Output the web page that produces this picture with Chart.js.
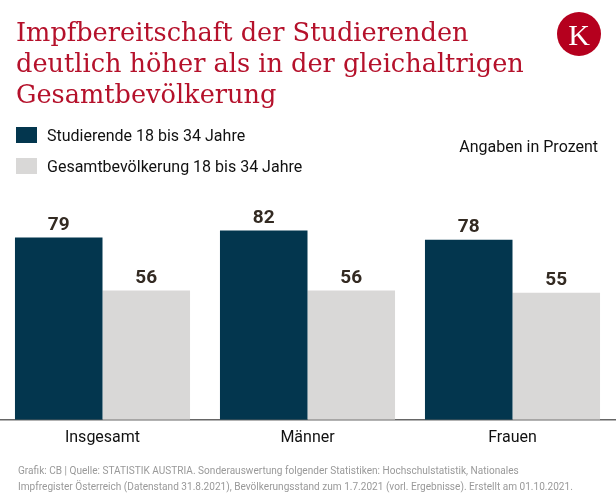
<!DOCTYPE html>
<html lang="de">
<head>
    <meta charset="UTF-8">
    <title>Impfbereitschaft</title>
    <script src="https://cdn.jsdelivr.net/npm/chart.js"></script>
    <style>
        body { margin: 0; background: #fff; font-family: Roboto, Arial, sans-serif; }
        #wrap { position: relative; width: 616px; height: 504px; overflow: hidden; }
        #chartBox { position: absolute; left: 0; top: 0; width: 616px; height: 504px; }
        h1 { position: absolute; left: 16px; top: 17px; margin: 0; font-family: "DejaVu Serif", serif; font-weight: normal;
             font-size: 25.6px; line-height: 31px; color: #b5112b; white-space: nowrap; }
        .logo { position: absolute; left: 557px; top: 12px; width: 44px; height: 44px; border-radius: 50%; background: #b5001e;
                color: #fff; font-family: "Liberation Serif", serif; font-size: 30px; text-align: center; line-height: 46px; }
        .leg { position: absolute; left: 16px; font-size: 16px; color: #111; }
        .leg span { display: inline-block; width: 21px; height: 16px; vertical-align: -2px; margin-right: 10px; }
        .unit { position: absolute; right: 18px; top: 137px; font-size: 16px; color: #111; }
        .src { position: absolute; left: 18px; top: 463px; font-size: 10.9px; line-height: 16px; color: #999; white-space: nowrap;
               transform: scaleX(0.925); transform-origin: left top; }
    </style>
</head>
<body>
<div id="wrap">
    <div id="chartBox"><canvas id="chart"></canvas></div>
    <h1>Impfbereitschaft der Studierenden<br>deutlich höher als in der gleichaltrigen<br>Gesamtbevölkerung</h1>
    <div class="logo">K</div>
    <div class="leg" style="top:126px"><span style="background:#03364e"></span>Studierende 18 bis 34 Jahre</div>
    <div class="leg" style="top:157px"><span style="background:#d9d8d7"></span>Gesamtbevölkerung 18 bis 34 Jahre</div>
    <div class="unit">Angaben in Prozent</div>
    <div class="src">Grafik: CB | Quelle: STATISTIK AUSTRIA. Sonderauswertung folgender Statistiken: Hochschulstatistik, Nationales<br>Impfregister Österreich (Datenstand 31.8.2021), Bevölkerungsstand zum 1.7.2021 (vorl. Ergebnisse). Erstellt am 01.10.2021.</div>
</div>
<script>
    let kategorien = ["Insgesamt", "Männer", "Frauen"];
    let studierende = [79, 82, 78];
    let gesamt = [56, 56, 55];

    // Zahlen über den Balken
    let werteLabel = {
        id: "werteLabel",
        afterDatasetsDraw(chart) {
            let ctx = chart.ctx;
            ctx.save();
            ctx.font = "bold 19px Roboto, Arial, sans-serif";
            ctx.fillStyle = "#332a22";
            ctx.textAlign = "center";
            ctx.textBaseline = "bottom";
            chart.data.datasets.forEach((ds, i) => {
                chart.getDatasetMeta(i).data.forEach((bar, j) => {
                    ctx.fillText(ds.data[j], bar.x, bar.y - 3);
                });
            });
            ctx.restore();
        }
    };

    let chart = new Chart(document.getElementById("chart"), {
        type: "bar",
        data: {
            labels: kategorien,
            datasets: [
                { label: "Studierende 18 bis 34 Jahre", data: studierende, backgroundColor: "#03364e" },
                { label: "Gesamtbevölkerung 18 bis 34 Jahre", data: gesamt, backgroundColor: "#d9d8d7" }
            ]
        },
        options: {
            responsive: true,
            maintainAspectRatio: false,
            animation: false,
            layout: { padding: { top: 189, left: 0, right: 1, bottom: 47 } },
            plugins: { legend: { display: false }, tooltip: { enabled: false } },
            scales: {
                x: {
                    grid: { display: false, drawTicks: false },
                    border: { color: "#666", width: 1.5 },
                    ticks: { color: "#111", font: { size: 16, family: "Roboto, Arial, sans-serif" }, padding: 9 }
                },
                y: {
                    display: false,
                    min: 0,
                    max: 100
                }
            },
            datasets: { bar: { categoryPercentage: 0.854, barPercentage: 1.0 } }
        },
        plugins: [werteLabel]
    });
</script>
</body>
</html>
